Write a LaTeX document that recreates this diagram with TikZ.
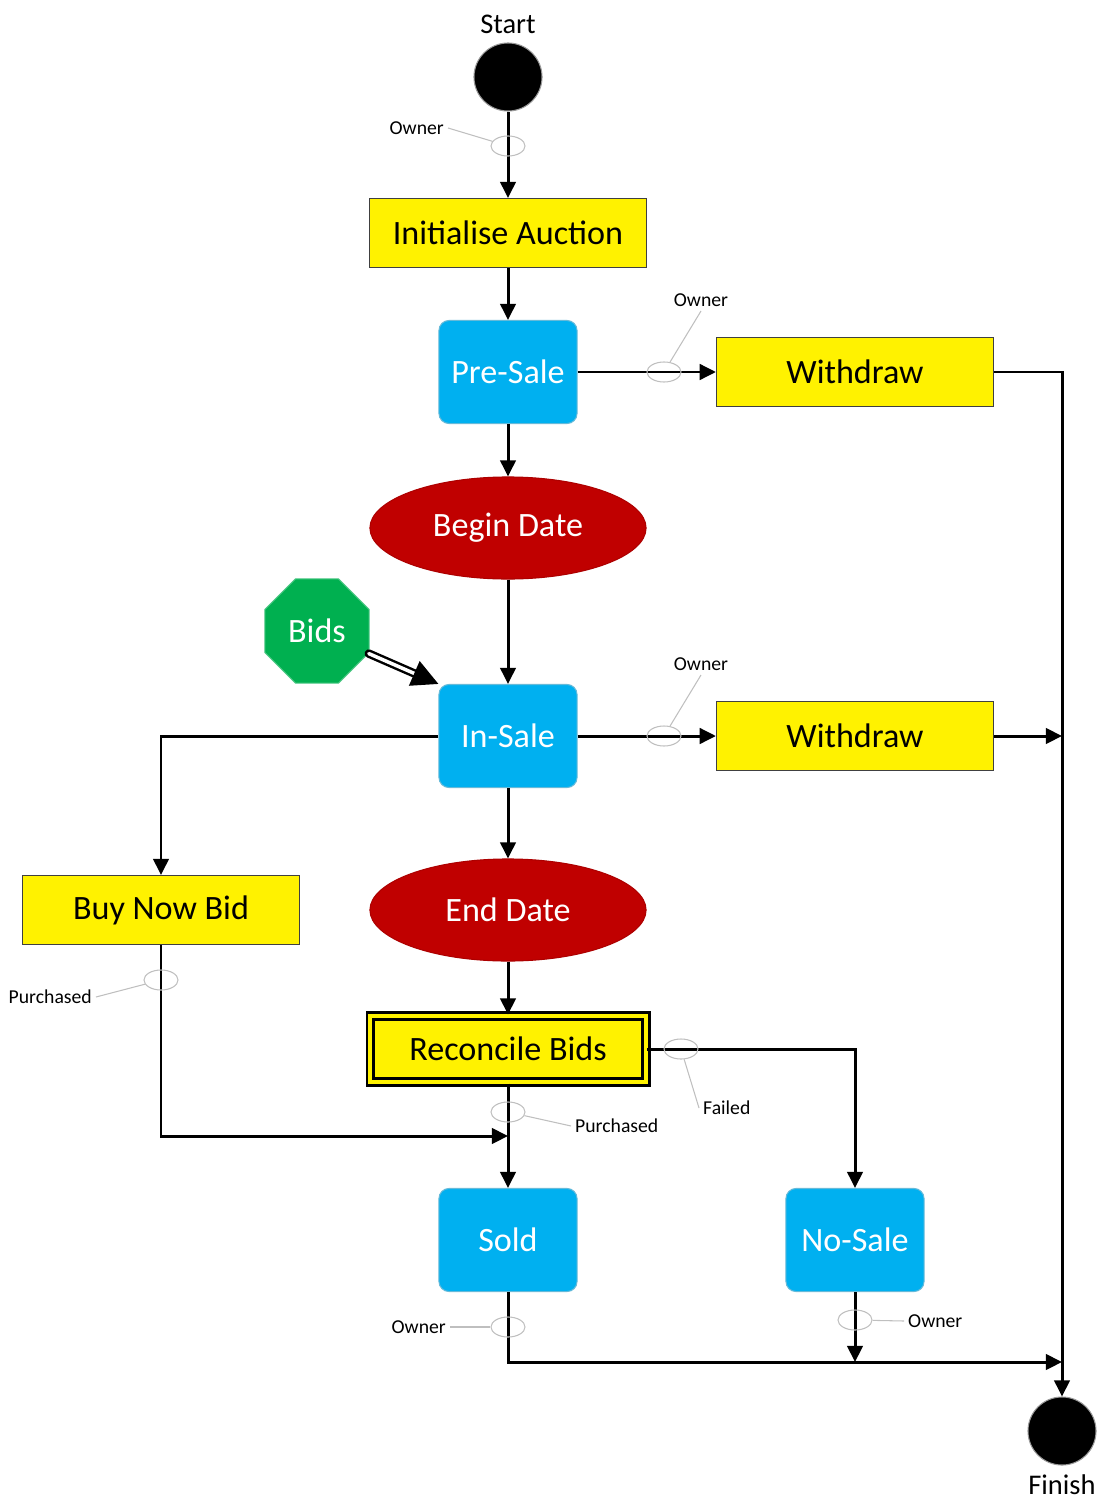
\documentclass[tikz,border=0pt]{standalone}
\usepackage{fontspec}
\setmainfont{Carlito}
\usetikzlibrary{arrows.meta}
\usetikzlibrary{shapes.geometric}
\usetikzlibrary{positioning}
\tikzset{>={Triangle[length=4.6pt,width=4.4pt]}}
\definecolor{saleblue}{HTML}{00B0F0}
\definecolor{datered}{HTML}{C00000}
\definecolor{bidgreen}{HTML}{00B050}
\newcommand\boxfont{\fontsize{9.7}{11}\selectfont}
\newcommand\termfont{\fontsize{8.1}{9}\selectfont}
\newcommand\guardfont{\fontsize{5.6}{6.5}\selectfont}
\tikzstyle{action}=[draw=black!75,line width=0.3pt,fill=yellow,minimum width=2.77cm,
  minimum height=0.69cm,font=\boxfont]
\tikzstyle{state}=[draw=saleblue!80!black!60,line width=0.3pt,fill=saleblue,rounded corners=0.1cm,
  text=white,minimum width=1.38cm,minimum height=1.03cm,font=\boxfont]
\tikzstyle{event}=[ellipse,draw=datered!90!black,line width=0.3pt,fill=datered,text=white,
  minimum width=2.76cm,minimum height=1.02cm,font=\boxfont]
\tikzstyle{terminal}=[circle,fill=black,draw=black!40,line width=0.3pt,minimum size=0.68cm,inner sep=0pt]
\tikzstyle{flow}=[->,line width=0.85pt]
\tikzstyle{guardmark}=[ellipse,draw=black!25,line width=0.3pt,minimum width=0.34cm,
  minimum height=0.2cm,inner sep=0pt]
\tikzstyle{guardtext}=[font=\guardfont,inner sep=1pt]
\tikzstyle{guardline}=[draw=black!25,line width=0.3pt]
% guard: name, mark position, label position, label anchor, label text
\newcommand\guard[5]{{
  \node[guardmark] (#1) at (#2) {};
  \node[guardtext,anchor=#4] (#1t) at (#3) {#5};
  \draw[guardline] (#1t.#4) -- (#1);
}}

\begin{document}
\begin{tikzpicture}[x=0.01cm,y=-0.01cm]
  \useasboundingbox (0,0) rectangle (1099,1500);

  % NODES
  \node[terminal] (Start) at (508,77) {};
  \node[font=\termfont,above=-0.04cm of Start] (StartL) {Start};
  \node[action] (Init) at (508,233) {Initialise Auction};
  \node[state] (PreSale) at (508,372) {Pre-Sale};
  \node[action] (WdA) at (855,372) {Withdraw};
  \node[event] (BeginDate) at (508,528) {Begin Date};
  \node[regular polygon,regular polygon sides=8,fill=bidgreen,draw=bidgreen!70!white,
    line width=0.3pt,text=white,minimum size=1.126cm,inner sep=0pt,font=\boxfont] (Bids) at (317,631) {Bids};
  \node[state] (InSale) at (508,736) {In-Sale};
  \node[action] (WdB) at (855,736) {Withdraw};
  \node[action] (BuyNow) at (161,910) {Buy Now Bid};
  \node[event] (EndDate) at (508,910) {End Date};
  \node[action,draw=black,line width=0.85pt,double=yellow,double distance=1.1pt,
    minimum width=2.75cm,minimum height=0.66cm] (Reconcile) at (508,1049) {Reconcile Bids};
  \node[state] (Sold) at (508,1240) {Sold};
  \node[state] (NoSale) at (855,1240) {No-Sale};
  \node[terminal] (Finish) at (1062,1431) {};
  \node[font=\termfont,below=-0.03cm of Finish] (FinishL) {Finish};

  \coordinate (merge) at (Sold.north |- 0,1136); % buy now joins
  \coordinate (exit) at (Finish |- 0,1362); % sold / no-sale leave

  % FLOWS
  \draw[flow] (Start) -- (Init);
  \draw[flow] (Init) -- (PreSale);
  \draw[flow] (PreSale) -- (WdA);
  \draw[flow] (WdA.east) -| (Finish);
  \draw[flow] (PreSale) -- (BeginDate);
  \draw[flow] (BeginDate) -- (InSale);
  \draw[double,double distance=1pt,line width=0.7pt,line cap=round,
    -{Triangle[length=7.5pt,width=7.5pt]}] (Bids) -- (InSale.north west);
  \draw[flow] (InSale) -- (WdB);
  \draw[flow] (WdB.east) -- (Finish |- WdB);
  \draw[flow] (InSale.west) -| (BuyNow);
  \draw[flow] (InSale) -- (EndDate);
  \draw[flow] (EndDate) -- (Reconcile);
  \draw[flow] (Reconcile.east) -| (NoSale);
  \draw[flow] (Reconcile) -- (Sold);
  \draw[flow] (BuyNow.south) |- (merge);
  \draw[flow] (Sold.south) |- (exit);
  \draw[flow] (NoSale.south) -- (NoSale |- exit);

  % GUARDS
  \guard{gStart}{508,146}{448,128}{east}{Owner}
  \guard{gWdA}{664,372}{701,311}{south}{Owner}
  \guard{gWdB}{664,736}{701,675}{south}{Owner}
  \guard{gBuy}{161,980}{96,997}{east}{Purchased}
  \guard{gFail}{681,1049}{699,1108}{west}{Failed}
  \guard{gSold}{508,1112}{571,1126}{west}{Purchased}
  \guard{gOut}{508,1327}{450,1327}{east}{Owner}
  \guard{gNo}{855,1320}{904,1321}{west}{Owner}
\end{tikzpicture}
\end{document}
